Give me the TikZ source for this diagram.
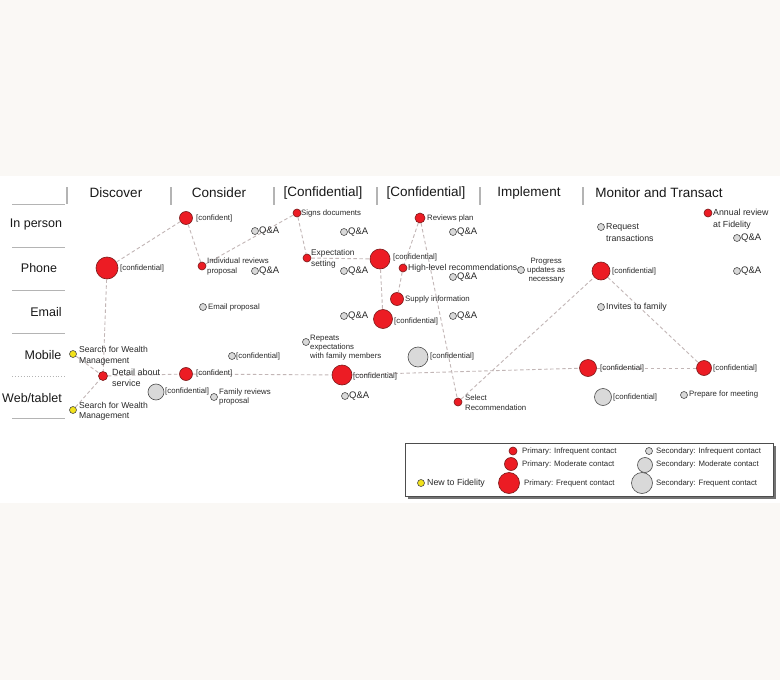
\documentclass[tikz,border=0pt]{standalone}
\usepackage{fontspec}
\setmainfont{Liberation Sans}
\usetikzlibrary{positioning}
\definecolor{bgc}{HTML}{FAF8F5}
\definecolor{redf}{HTML}{EC1C24}
\definecolor{redd}{HTML}{7A1A1A}
\definecolor{grayf}{HTML}{D9D9D9}
\definecolor{grayd}{HTML}{4D4D4D}
\definecolor{yelf}{HTML}{F2E21B}
\definecolor{txt}{HTML}{2A2A2A}
\definecolor{sepc}{HTML}{B4B4B4}
\definecolor{connc}{HTML}{C2B6B6}
\tikzset{
  pri/.style={circle, fill=redf, draw=redd, line width=0.6pt, inner sep=0pt, minimum size=#1},
  sec/.style={circle, fill=grayf, draw=grayd, line width=0.6pt, inner sep=0pt, minimum size=#1},
  newc/.style={circle, fill=yelf, draw=grayd, line width=0.6pt, inner sep=0pt, minimum size=7pt},
  lbl/.style={anchor=west, inner sep=0pt, text=txt, align=left, font=\fontsize{7.8}{10}\selectfont},
  lblm/.style={lbl, font=\fontsize{8.8}{10.5}\selectfont},
  qa/.style={anchor=west, inner sep=0pt, text=txt, font=\fontsize{9.5}{11}\selectfont},
  hdr/.style={inner sep=0pt, text=black!90, font=\fontsize{13.5}{15}\selectfont},
  rowl/.style={inner sep=0pt, text=black!90, font=\fontsize{12.5}{14}\selectfont},
  conn/.style={draw=connc, dashed, dash pattern=on 3.5pt off 2.5pt, line width=0.9pt},
  sepl/.style={draw=sepc, line width=1.2pt},
}
\begin{document}
\begin{tikzpicture}[x=1pt,y=-1pt]
\fill[bgc] (0,0) rectangle (780,680);
\useasboundingbox (0,0) rectangle (780,680);
\fill[white] (0,176) rectangle (780,503);

% header separators
\draw[sepl] (67,187) -- (67,204);
\foreach \x in {171,274,377,480,583} \draw[sepl] (\x,187) -- (\x,205);
% row separators
\foreach \y in {204,247,290,333,418} \draw[sepl, line width=0.9pt] (12,\y) -- (65,\y);
\draw[sepl, line width=0.9pt, dotted] (12,376) -- (66,376);

% headers
\node[hdr] (h1) at (116,193) {Discover};
\node[hdr] (h2) at (219,193) {Consider};
\node[hdr] (h3) at (323,193) {[Confidential]};
\node[hdr] (h4) at (426,193) {[Confidential]};
\node[hdr] (h5) at (529,193) {Implement};
\node[hdr] (h6) at (659,193) {Monitor and Transact};

% row labels
\node[rowl] (r1) at (36,224) {In person};
\node[rowl] (r2) at (39,268) {Phone};
\node[rowl] (r3) at (46,312) {Email};
\node[rowl] (r4) at (43,355) {Mobile};
\node[rowl] (r5) at (32,398) {Web/tablet};

% ---- nodes ----
% In person
\node[pri=13pt] (ip1) at (186,218) {};
\node[sec=7pt] (q1) at (255,231) {};
\node[pri=8pt] (signs) at (297,213) {};
\node[sec=7pt] (q2) at (344,232) {};
\node[pri=10pt] (reviews) at (420,218) {};
\node[sec=7pt] (q3) at (453,232) {};
\node[sec=7pt] (req) at (601,227) {};
\node[pri=8pt] (annual) at (708,213) {};
\node[sec=7pt] (q4) at (737,238) {};
% Phone
\node[pri=22pt] (ph1) at (107,268) {};
\node[pri=8pt] (indiv) at (202,266) {};
\node[sec=7pt] (q5) at (255,271) {};
\node[pri=8pt] (expect) at (307,258) {};
\node[sec=7pt] (q6) at (344,271) {};
\node[pri=20pt] (ph3) at (380,259) {};
\node[pri=8pt] (high) at (403,268) {};
\node[sec=7pt] (q7) at (453,277) {};
\node[sec=7pt] (prog) at (521,270) {};
\node[pri=18pt] (mph) at (601,271) {};
\node[sec=7pt] (q8) at (737,271) {};
% Email
\node[sec=7pt] (email) at (203,307) {};
\node[pri=13pt] (supply) at (397,299) {};
\node[sec=7pt] (q9) at (344,316) {};
\node[pri=19pt] (em3) at (383,319) {};
\node[sec=7pt] (q10) at (453,316) {};
\node[sec=7pt] (invite) at (601,307) {};
% Mobile
\node[newc] (s1) at (73,354) {};
\node[pri=9pt] (detail) at (103,376) {};
\node[sec=7pt] (mc) at (232,356) {};
\node[sec=7pt] (rep) at (306,342) {};
\node[sec=20pt] (bigsec) at (418,357) {};
\node[pri=13pt] (c1) at (186,374) {};
\node[pri=20pt] (c2) at (342,375) {};
\node[pri=17pt] (m1) at (588,368) {};
\node[pri=15pt] (m2) at (704,368) {};
% Web/tablet
\node[newc] (s2) at (73,410) {};
\node[sec=16pt] (ws1) at (156,392) {};
\node[sec=7pt] (fam) at (214,397) {};
\node[sec=7pt] (q11) at (345,396) {};
\node[pri=8pt] (select) at (458,402) {};
\node[sec=17pt] (ws2) at (603,397) {};
\node[sec=7pt] (prep) at (684,395) {};

% ---- connectors ----
\draw[conn] (ph1) -- (ip1);
\draw[conn] (ip1) -- (indiv);
\draw[conn] (indiv) -- (signs);
\draw[conn] (signs) -- (expect);
\draw[conn] (expect) -- (ph3);
\draw[conn] (ph3) -- (em3);
\draw[conn] (reviews) -- (high);
\draw[conn] (high) -- (supply);
\draw[conn] (reviews) -- (select);
\draw[conn] (select) -- (mph);
\draw[conn] (mph) -- (m2);
\draw[conn] (ph1) -- (detail);
\draw[conn] (s1) -- (detail);
\draw[conn] (s2) -- (detail);
\draw[conn] (detail) -- (c1);
\draw[conn] (c1) -- (c2);
\draw[conn] (c2) -- (m1);
\draw[conn] (m1) -- (m2);

% ---- labels ----
\node[lbl] (t_ip1) at (196,218) {[confident]};
\node[qa] (t_q1) at (259,231) {Q\&A};
\node[lbl] (t_signs) at (301,213) {Signs documents};
\node[qa] (t_q2) at (348,232) {Q\&A};
\node[lbl] (t_rev) at (427,218) {Reviews plan};
\node[qa] (t_q3) at (457,232) {Q\&A};
\node[lblm, font=\fontsize{8.8}{12}\selectfont] (t_req) at (606,233) {Request\\transactions};
\node[lblm, font=\fontsize{8.8}{12}\selectfont] (t_ann) at (713,219) {Annual review\\at Fidelity};
\node[qa] (t_q4) at (741,238) {Q\&A};

\node[lbl] (t_ph1) at (120,268) {[confidential]};
\node[lbl] (t_ind) at (207,266) {Individual reviews\\proposal};
\node[qa] (t_q5) at (259,271) {Q\&A};
\node[lblm, font=\fontsize{8.3}{11}\selectfont] (t_exp) at (311,258.5) {Expectation\\setting};
\node[qa] (t_q6) at (348,271) {Q\&A};
\node[lbl] (t_ph3) at (393,257) {[confidential]};
\node[lblm, font=\fontsize{8.6}{10}\selectfont] (t_high) at (408,268) {High-level recommendations};
\node[qa] (t_q7) at (457,277) {Q\&A};
\node[lbl, align=center, font=\fontsize{7.8}{9}\selectfont] (t_prog) at (527,271) {Progress\\updates as\\necessary};
\node[lbl] (t_mph) at (612,271) {[confidential]};
\node[qa] (t_q8) at (741,271) {Q\&A};

\node[lbl] (t_email) at (208,307) {Email proposal};
\node[lbl] (t_sup) at (405,299) {Supply information};
\node[qa] (t_q9) at (348,316) {Q\&A};
\node[lbl] (t_em3) at (394,321) {[confidential]};
\node[qa] (t_q10) at (457,316) {Q\&A};
\node[lblm] (t_inv) at (606,307) {Invites to family};

\node[lblm, font=\fontsize{8.6}{10.5}\selectfont] (t_s1) at (79,356) {Search for Wealth\\Management};
\node[lblm, font=\fontsize{9}{11}\selectfont] (t_det) at (112,377.5) {Detail about\\service};
\node[lbl] (t_mc) at (236,356) {[confidential]};
\node[lbl, font=\fontsize{7.8}{9}\selectfont] (t_rep) at (310,348) {Repeats\\expectations\\with family members};
\node[lbl] (t_big) at (430,356) {[confidential]};
\node[lbl] (t_c1) at (196,373) {[confident]};
\node[lbl] (t_c2) at (353,376) {[confidential]};
\node[lbl] (t_m1) at (600,368) {[confidential]};
\node[lbl] (t_m2) at (713,368) {[confidential]};

\node[lblm, font=\fontsize{8.6}{10.5}\selectfont] (t_s2) at (79,411.5) {Search for Wealth\\Management};
\node[lbl] (t_ws1) at (165,391) {[confidential]};
\node[lbl, font=\fontsize{7.8}{9}\selectfont] (t_fam) at (219,396.5) {Family reviews\\proposal};
\node[qa] (t_q11) at (349,396) {Q\&A};
\node[lbl, font=\fontsize{7.8}{9.5}\selectfont] (t_sel) at (465,402.5) {Select\\Recommendation};
\node[lbl] (t_ws2) at (613,397) {[confidential]};
\node[lbl] (t_prep) at (689,394) {Prepare for meeting};

% ---- legend ----
\fill[black!55] (407.5,445.5) rectangle (775.5,498.5);
\draw[grayd, fill=white, line width=0.6pt] (405,443) rectangle (773,496);
\node[pri=8pt] (lpi) at (513,451) {};
\node[lbl] (tlpi) at (522,451) {Primary: Infrequent contact};
\node[pri=13pt] (lpm) at (511,464) {};
\node[lbl] (tlpm) at (522,464) {Primary: Moderate contact};
\node[pri=21pt] (lpf) at (509,483) {};
\node[lbl] (tlpf) at (524,483) {Primary: Frequent contact};
\node[sec=7pt] (lsi) at (649,451) {};
\node[lbl] (tlsi) at (656,451) {Secondary: Infrequent contact};
\node[sec=15pt] (lsm) at (645,465) {};
\node[lbl] (tlsm) at (656,464) {Secondary: Moderate contact};
\node[sec=21pt] (lsf) at (642,483) {};
\node[lbl] (tlsf) at (656,483) {Secondary: Frequent contact};
\node[newc] (lnew) at (421,483) {};
\node[lblm] (tlnew) at (427,483.5) {New to Fidelity};
\end{tikzpicture}
\end{document}
